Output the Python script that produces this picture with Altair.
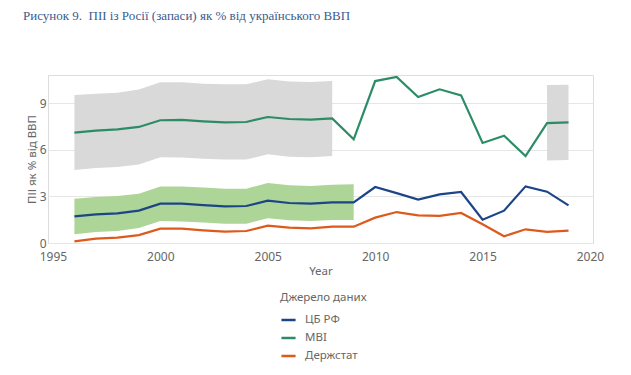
import altair as alt
import pandas as pd

years = list(range(1996, 2020))
cbr = [1.71, 1.84, 1.91, 2.08, 2.53, 2.53, 2.44, 2.36, 2.38, 2.72, 2.57, 2.53, 2.61, 2.61,
       3.60, 3.21, 2.79, 3.13, 3.28, 1.50, 2.08, 3.64, 3.30, 2.42]
mbi = [7.09, 7.22, 7.30, 7.46, 7.89, 7.91, 7.82, 7.76, 7.78, 8.10, 7.97, 7.93, 8.01, 6.66,
       10.41, 10.67, 9.39, 9.88, 9.49, 6.43, 6.90, 5.59, 7.71, 7.76]
derzh = [0.11, 0.28, 0.34, 0.51, 0.92, 0.92, 0.81, 0.73, 0.77, 1.11, 0.99, 0.94, 1.05, 1.05,
         1.63, 1.99, 1.78, 1.74, 1.93, 1.20, 0.43, 0.88, 0.71, 0.79]

gray_years = list(range(1996, 2009)) + [2018, 2019]
gray_seg = ["a"] * 13 + ["b"] * 2
gray_hi = [9.51, 9.60, 9.66, 9.86, 10.33, 10.33, 10.24, 10.20, 10.20, 10.52, 10.39, 10.35, 10.41, 10.16, 10.18]
gray_lo = [4.69, 4.82, 4.89, 5.04, 5.51, 5.49, 5.42, 5.36, 5.36, 5.70, 5.55, 5.51, 5.59, 5.31, 5.33]

green_years = list(range(1996, 2010))
green_hi = [2.85, 2.96, 3.02, 3.17, 3.64, 3.64, 3.56, 3.49, 3.49, 3.86, 3.71, 3.66, 3.75, 3.77]
green_lo = [0.56, 0.71, 0.77, 0.96, 1.41, 1.39, 1.31, 1.24, 1.24, 1.59, 1.46, 1.41, 1.48, 1.48]

sources = ["ЦБ РФ", "MBI", "Держстат"]
colors = ["#1c4587", "#2c8c66", "#dd5a1c"]

lines = pd.DataFrame({
    "Year": years * 3,
    "value": cbr + mbi + derzh,
    "src": [sources[0]] * len(years) + [sources[1]] * len(years) + [sources[2]] * len(years),
})
gray = pd.DataFrame({"Year": gray_years, "seg": gray_seg, "hi": gray_hi, "lo": gray_lo})
green = pd.DataFrame({"Year": green_years, "hi": green_hi, "lo": green_lo})

FONT = "Noto Sans"
xscale = alt.Scale(domain=[1994.77, 2020.14], nice=False, zero=False)
yscale = alt.Scale(domain=[0, 10.8], nice=False)

xenc = alt.X("Year:Q", scale=xscale,
             axis=alt.Axis(values=[1995, 2000, 2005, 2010, 2015, 2020], format="d",
                           grid=False, domain=False, ticks=False, labelPadding=8,
                           labelFontSize=12, labelColor="#666666", labelFont=FONT,
                           title="Year", titleFontSize=11.5, titleFontWeight="normal",
                           titleColor="#666666", titleFont=FONT, titlePadding=3,
                           labelFlush=False))

gray_area = alt.Chart(gray).mark_area(color="#d9d9d9", opacity=1).encode(
    x=xenc,
    y=alt.Y("lo:Q", scale=yscale,
            axis=alt.Axis(values=[0, 1.5, 3, 4.5, 6, 7.5, 9, 10.5], labelExpr="datum.value % 3 == 0 ? datum.label : ''",
                          grid=True, gridColor="#e6e6e6", domain=False, ticks=False,
                          labelFontSize=12, labelColor="#666666", labelFont=FONT, labelPadding=2,
                          title="ПІІ як % від ВВП", titleFontSize=11.5, titleFontWeight="normal",
                          titleColor="#666666", titleFont=FONT, titlePadding=2)),
    y2="hi:Q",
    detail="seg:N",
)

green_area = alt.Chart(green).mark_area(color="#add597", opacity=1).encode(
    x=alt.X("Year:Q", scale=xscale),
    y=alt.Y("lo:Q", scale=yscale),
    y2="hi:Q",
)

line_layer = alt.Chart(lines).mark_line(strokeWidth=2.2).encode(
    x=alt.X("Year:Q", scale=xscale),
    y=alt.Y("value:Q", scale=yscale),
    color=alt.Color("src:N", sort=sources,
                    scale=alt.Scale(domain=sources, range=colors),
                    legend=alt.Legend(title="Джерело даних", orient="none",
                                      legendX=232, legendY=217,
                                      symbolType="stroke", symbolStrokeWidth=2.5, symbolSize=200,
                                      titleFontSize=11.5, titleFontWeight="normal",
                                      titleColor="#666666", titleFont=FONT, titlePadding=8,
                                      labelFontSize=11.5, labelColor="#666666", labelFont=FONT,
                                      rowPadding=4, labelOffset=8)),
)

chart = alt.layer(gray_area, green_area, line_layer).properties(
    width=545, height=168,
    padding={"left": 48, "top": 75, "right": 38, "bottom": 132},
    autosize=alt.AutoSizeParams(type="none"),
    title=alt.TitleParams(
        "Рисунок 9.\u00a0 ПІІ із Росії (запаси) як % від українського ВВП",
        anchor="start", frame="group", dx=-25, offset=50,
        font="Liberation Serif", fontSize=13, fontWeight="normal", color="#3b5b8f",
    ),
).configure_view(stroke=None).configure(background="white")

chart.save("out.html", embed_options={"renderer": "svg", "actions": False})
